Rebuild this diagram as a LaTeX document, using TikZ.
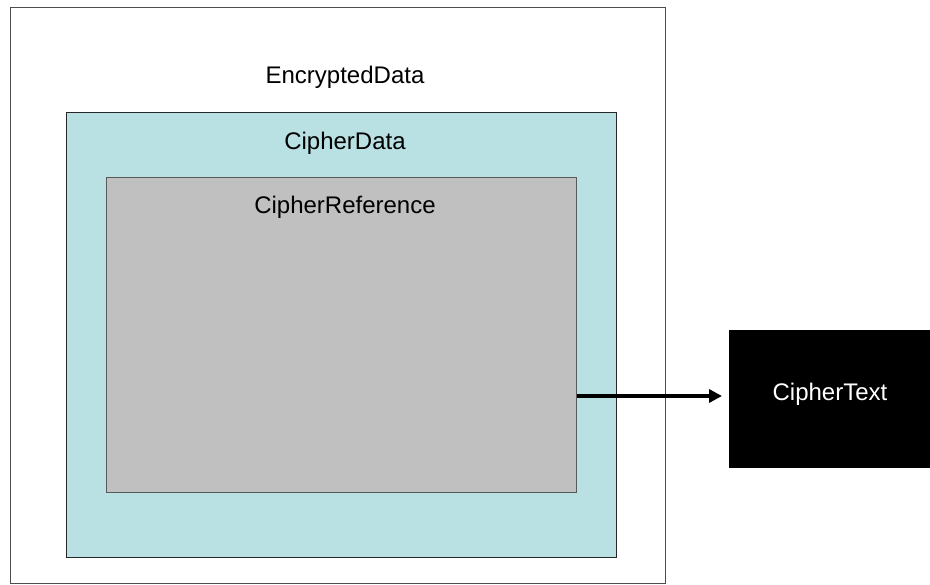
\documentclass[tikz,border=0pt]{standalone}
\usepackage{fontspec}
\setmainfont{Liberation Sans}
\usetikzlibrary{arrows.meta}
\definecolor{cyanfill}{HTML}{B9E0E3}
\definecolor{grayfill}{HTML}{C0C0C0}
\begin{document}
\begin{tikzpicture}[x=1pt,y=-1pt,
  box/.style={draw, line width=1.2pt, inner sep=0pt},
  lbl/.style={font=\fontsize{24}{28}\selectfont, inner sep=0pt, anchor=center}]
\useasboundingbox (0,0) rectangle (930,585);
\node[box, draw=black!70, fill=white, minimum width=655pt, minimum height=576pt, anchor=north west] (outer) at (10,7) {};
\node[box, draw=black!85, fill=cyanfill, minimum width=550pt, minimum height=445pt, anchor=north west] (cipherdata) at (66,112) {};
\node[box, draw=black!65, fill=grayfill, minimum width=470pt, minimum height=315pt, anchor=north west] (gray) at (106,177) {};
\node[lbl] (t1) at (345,77) {EncryptedData};
\node[lbl] (t2) at (345,143) {CipherData};
\node[lbl] (t3) at (345,207) {CipherReference};
\node[fill=black, minimum width=201pt, minimum height=138pt, anchor=north west, inner sep=0pt] (ct) at (729,330) {};
\node[lbl, text=white] (cttext) at (830,394) {CipherText};
\coordinate (arrend) at (722,396);
\draw[line width=4pt, -{Triangle[length=13pt,width=13pt]}] (gray.east |- arrend) -- (arrend);
\end{tikzpicture}
\end{document}
